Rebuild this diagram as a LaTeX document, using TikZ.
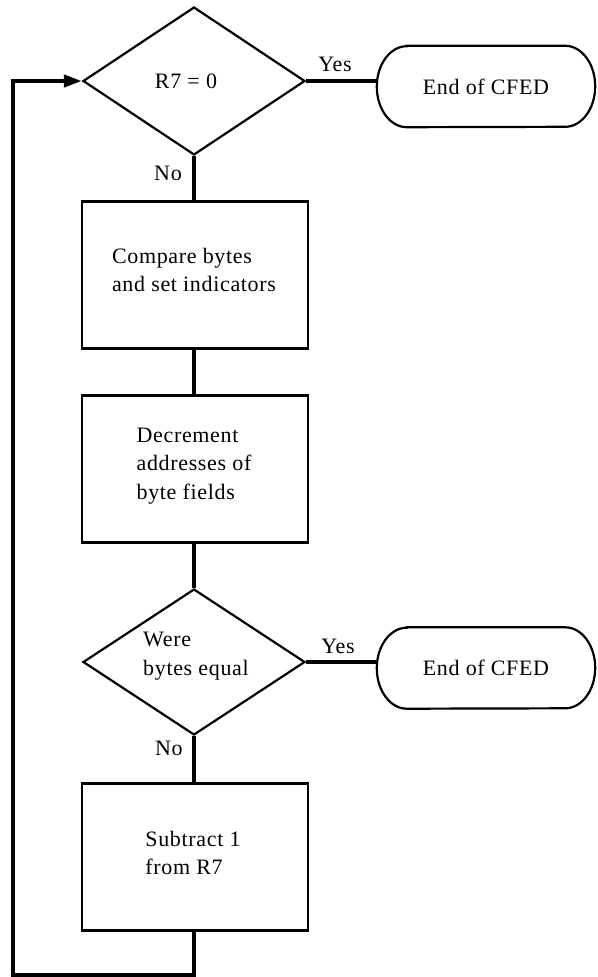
\documentclass[tikz,border=0pt]{standalone}
\usepackage{fontspec}
\setmainfont{Liberation Serif}[LetterSpace=3]
\usetikzlibrary{shapes.geometric,arrows.meta}
\begin{document}
\begin{tikzpicture}[x=1pt,y=-1pt,
  outline/.style={draw, line width=2.2pt},
  conn/.style={line width=4.2pt, line join=miter},
  txt/.style={font=\fontsize{22}{28.5}\selectfont, align=left, inner sep=0pt},
  lbl/.style={font=\fontsize{22}{25}\selectfont, inner sep=0pt},
  procbox/.style={outline, rectangle, minimum width=226pt, minimum height=147pt, inner sep=0pt},
  decision/.style={outline, diamond, minimum width=222pt, minimum height=148pt, inner sep=0pt},
  termbox/.style={rectangle, minimum width=218pt, minimum height=81pt, inner sep=0pt, txt, align=center},
]
\useasboundingbox (0,0) rectangle (597,977);

% shapes
\node[decision] (d1) at (194,81) {};
\node[procbox] (b1) at (195,275) {};
\node[procbox] (b2) at (195,469) {};
\node[decision, minimum height=146pt] (d2) at (194,662) {};
\node[procbox] (b3) at (195,857) {};
\node[termbox] (t1) at (486,86.5) {End of CFED};
\node[termbox] (t2) at (486,668) {End of CFED};

% terminal outlines
\foreach \t in {t1,t2}{
  \draw[outline] ([xshift=30pt]\t.north west) -- ([xshift=-30pt]\t.north east)
    arc[start angle=90, end angle=-90, x radius=30pt, y radius=40.5pt]
    -- ([xshift=30pt]\t.south west)
    arc[start angle=270, end angle=90, x radius=30pt, y radius=40.5pt] -- cycle;
}

% texts
\node[txt] (x1) at (186,81) {R7 = 0};
\node[txt] (x2) at (194,270) {Compare bytes\\and set indicators};
\node[txt] (x3) at (194,466) {Decrement\\addresses of\\byte fields};
\node[txt] (x4) at (196,656) {Were\\bytes equal};
\node[txt] (x5) at (193,853) {Subtract 1\\from R7};

% labels
\node[lbl] (y1) at (335,64) {Yes};
\node[lbl] (n1) at (168,173) {No};
\node[lbl] (y2) at (338,646) {Yes};
\node[lbl] (n2) at (169,748) {No};

% connectors
\draw[conn] (d1.east) -- (d1.east -| t1.west);
\draw[conn] (d1.south) -- (d1.south |- b1.north);
\draw[conn] (d1.south |- b1.south) -- (d1.south |- b2.north);
\draw[conn] (d1.south |- b2.south) -- (d2.north);
\draw[conn] (d2.east) -- (d2.east -| t2.west);
\draw[conn] (d2.south) -- (d2.south |- b3.north);
\coordinate (c1) at (13,975);
\draw[conn, -{Triangle[length=18pt,width=12pt]}] (d2.south |- b3.south) |- (c1) |- (d1.west);
\end{tikzpicture}
\end{document}
